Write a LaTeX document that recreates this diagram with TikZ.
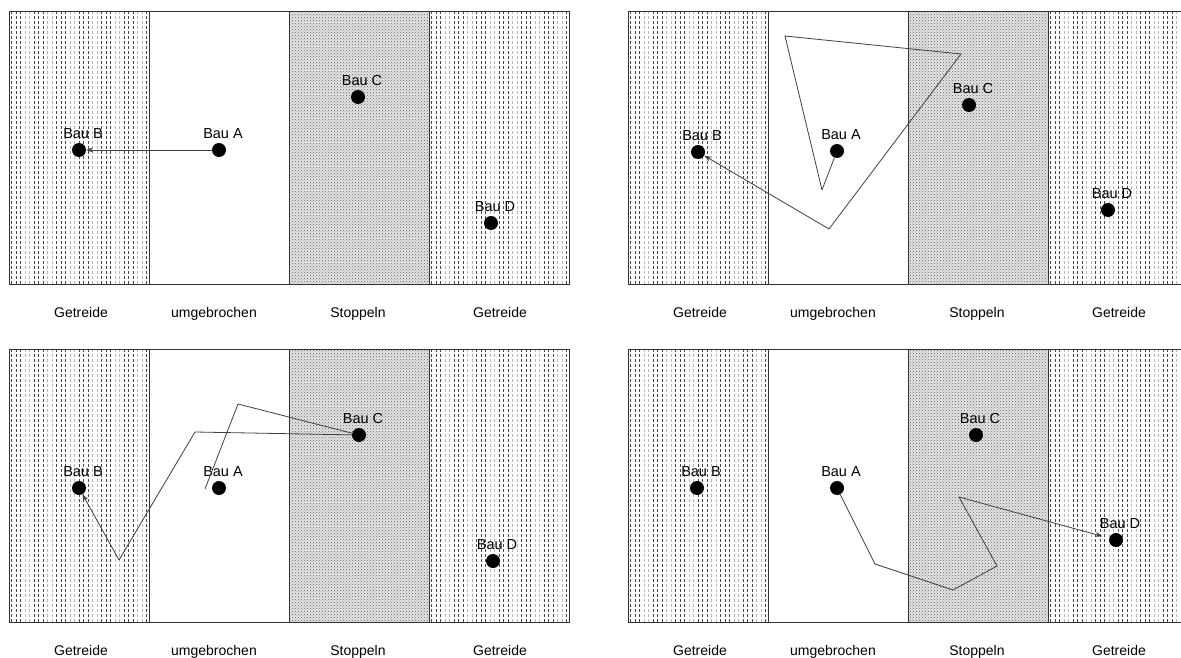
\documentclass[tikz,border=0pt]{standalone}
\usepackage{fontspec}
\setmainfont{Liberation Sans}
\usepackage{tikz}
\usetikzlibrary{positioning}
\usetikzlibrary{patterns}
\usetikzlibrary{arrows.meta}

\tikzset{
    bau/.style={circle, fill=black, minimum size=14pt, inner sep=0pt},
    baulabel/.style={font=\fontsize{14.5}{16}\selectfont, inner sep=1pt, above=3pt of #1, xshift=4pt},
    feldlabel/.style={font=\fontsize{14}{16}\selectfont, anchor=base},
    feldrand/.style={draw=black!80, line width=0.9pt},
    getreide/.style={line width=0.9pt, dash pattern=on 2.6pt off 2.4pt},
    weg/.style={draw=black!75, line width=0.8pt, line join=round},
    wegpfeil/.style={weg, -{Stealth[length=7pt,width=5pt]}},
}

\begin{document}
\begin{tikzpicture}[x=1pt, y=-1pt]
    \useasboundingbox (0,0) rectangle (1181,658);
    \fill[white] (0,0) rectangle (1181,658);

    % four fields, each with four strips
    \foreach \px/\py in {9/11, 628/11, 9/349, 628/349} {
        \foreach \s in {0,3} {
            \foreach \k in {0,...,30} {
                \pgfmathsetmacro\xx{\px+\s*140+2.5+\k*4.5}
                \pgfmathtruncatemacro\m{mod(\k,5)}
                \ifnum\m<3 \def\col{black!72}\else\def\col{black!28}\fi
                \draw[getreide, draw=\col] (\xx,\py) -- (\xx,\py+273);
            }
        }
        \fill[gray!20] (\px+280,\py) rectangle ++(140,273);
        \fill[pattern=crosshatch dots, pattern color=black!62] (\px+280,\py) rectangle ++(140,273);
        \draw[feldrand] (\px,\py) rectangle ++(560,273);
        \foreach \s in {1,2,3} {
            \draw[feldrand] (\px+\s*140,\py) -- ++(0,273);
        }
        \foreach \s/\dx/\t in {0/72/Getreide, 1/65/umgebrochen, 2/69/Stoppeln, 3/71/Getreide} {
            \node[feldlabel] (feld-\px-\py-\s) at (\px+\s*140+\dx,\py+306) {\t};
        }
    }

    % top left
    \node[bau] (b1) at (79,150) {};
    \node[bau] (a1) at (219,150) {};
    \node[bau] (c1) at (358,97) {};
    \node[bau] (d1) at (491,223) {};

    % top right
    \node[bau] (b2) at (698,152) {};
    \node[bau] (a2) at (837,151) {};
    \node[bau] (c2) at (969,105) {};
    \node[bau] (d2) at (1108,210) {};

    % bottom left
    \node[bau] (b3) at (79,488) {};
    \node[bau] (a3) at (219,488) {};
    \node[bau] (c3) at (359,435) {};
    \node[bau] (d3) at (493,561) {};

    % bottom right
    \node[bau] (b4) at (697,488) {};
    \node[bau] (a4) at (837,488) {};
    \node[bau] (c4) at (976,435) {};
    \node[bau] (d4) at (1116,540) {};

    \foreach \i in {1,...,4} {
        \node[baulabel=a\i] (la\i) {Bau A};
        \node[baulabel=b\i] (lb\i) {Bau B};
        \node[baulabel=c\i] (lc\i) {Bau C};
        \node[baulabel=d\i] (ld\i) {Bau D};
    }

    \coordinate (a3s) at (205,489);

    \draw[wegpfeil] (a1) -- (b1);
    \draw[wegpfeil] (a2) -- (822,190) -- (785,36) -- (961,54) -- (829,229) -- (b2);
    \draw[wegpfeil] (a3s) -- (238,404) -- (c3) -- (195,432) -- (119,560) -- (b3);
    \draw[wegpfeil, shorten >=7pt] (a4) -- (875,564) -- (953,590) -- (997,566) -- (959,497) -- (d4);
\end{tikzpicture}
\end{document}
